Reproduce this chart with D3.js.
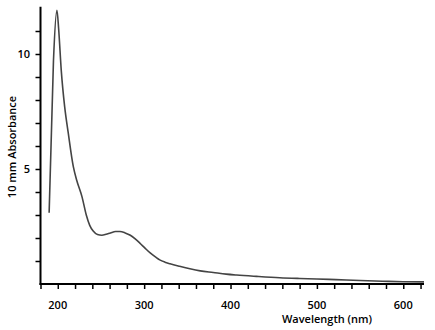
<!DOCTYPE html>
<html><head><meta charset="utf-8">
<script src="https://cdn.jsdelivr.net/npm/d3@7"></script>
<style>body{margin:0;background:#fff}svg{display:block}</style>
</head><body>
<script>
const wavelength = [190,195,199,201,204,208,212,218,222,228,233,237,241,246,251,256,261,267,272,278,284,290,295,301,307,313,318,324,330,341,353,365,380,395,407,430,457,480,500,522,550,576,600,625];
const absorbance = [3.1,9.7,11.9,11.1,9.3,7.7,6.6,5.1,4.5,3.8,3.0,2.55,2.3,2.15,2.12,2.16,2.22,2.28,2.28,2.22,2.12,1.95,1.78,1.56,1.35,1.18,1.05,0.95,0.88,0.77,0.66,0.57,0.5,0.43,0.39,0.33,0.27,0.24,0.22,0.19,0.15,0.12,0.1,0.09];
const xTickLabels = [200,300,400,500,600];
const yTickLabels = [5,10];
const xLabel = "Wavelength (nm)";
const yLabel = "10 mm Absorbance";

const W = 435, H = 330;
const svg = d3.select("body").append("svg").attr("width", W).attr("height", H);
const x = d3.scaleLinear().domain([180, 624]).range([40.5, 424]);
const y = d3.scaleLinear().domain([0, 12]).range([284, 8]);
const font = "'Open Sans', sans-serif";

svg.append("defs").append("clipPath").attr("id","c").append("rect")
  .attr("x", 40).attr("y", 0).attr("width", 384).attr("height", 284);

const data = wavelength.map((w,i)=>({w, a: absorbance[i]}));
svg.append("path").datum(data)
  .attr("clip-path","url(#c)")
  .attr("fill","none").attr("stroke","#444").attr("stroke-width",1.6)
  .attr("stroke-linejoin","round")
  .attr("d", d3.line().x(d=>x(d.w)).y(d=>y(d.a)).curve(d3.curveMonotoneX));

// x axis
const xAxis = d3.axisBottom(x).tickValues(d3.range(180, 621, 20)).tickSize(5).tickFormat("");
const gx = svg.append("g").attr("transform", `translate(0,${y(0)})`).call(xAxis);
gx.select(".domain").attr("stroke-width", 2).attr("d", `M${x(180)-1},0H${x(624)}`);
gx.selectAll(".tick line").attr("stroke-width", 1.5);
svg.append("g").selectAll("text").data(xTickLabels).join("text")
  .attr("x", d=>x(d)).attr("y", 309).attr("text-anchor","middle")
  .attr("font-family", font).attr("font-weight", 600).attr("font-size", 11)
  .text(d=>d);

// y axis
const yAxis = d3.axisLeft(y).tickValues(d3.range(1, 12, 1)).tickSize(5).tickFormat("");
const gy = svg.append("g").attr("transform", `translate(${x(180)},0)`).call(yAxis);
gy.select(".domain").attr("stroke-width", 2).attr("d", `M0,${y(12.05)}V${y(0)+1}`);
gy.selectAll(".tick line").attr("stroke-width", 1.5);
svg.append("g").selectAll("text").data(yTickLabels).join("text")
  .attr("x", 30).attr("y", d=>y(d)+4).attr("text-anchor","end")
  .attr("font-family", font).attr("font-weight", 600).attr("font-size", 11)
  .text(d=>d);

svg.append("text").attr("x", 327).attr("y", 323).attr("text-anchor","middle")
  .attr("font-family", font).attr("font-weight", 600).attr("font-size", 11)
  .text(xLabel);
svg.append("text").attr("transform","translate(16,147) rotate(-90)").attr("text-anchor","middle")
  .attr("font-family", font).attr("font-weight", 600).attr("font-size", 11)
  .text(yLabel);
</script>
</body></html>
